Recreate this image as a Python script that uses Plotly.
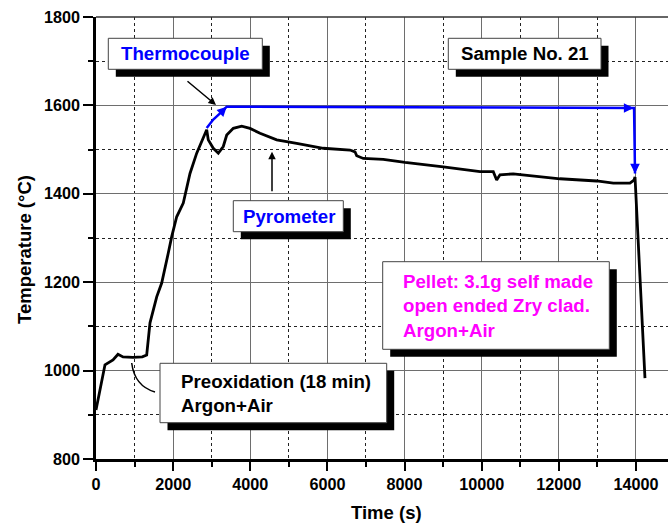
import plotly.graph_objects as go

# ---------------- data ----------------
pyro_t = [0, 233, 441, 570, 700, 959, 1200, 1314, 1400, 1444, 1574, 1703, 1763, 1874,
          1963, 2092, 2263, 2351, 2437, 2611, 2782, 2870, 2911, 3041, 3171, 3300, 3389,
          3560, 3777, 3993, 4252, 4685, 5203, 5893, 6585, 6715, 6759, 6930, 7449, 8011,
          9004, 9956, 10300, 10350, 10388, 10474, 10819, 12030, 12981, 13412, 13844,
          13948, 13975, 14233]
pyro_T = [911, 1013, 1024, 1037, 1031, 1030, 1031, 1035, 1108, 1122, 1167, 1198, 1220, 1266,
          1303, 1348, 1379, 1416, 1446, 1492, 1529, 1545, 1522, 1503, 1492, 1507, 1533,
          1548, 1553, 1548, 1537, 1522, 1514, 1503, 1499, 1495, 1486, 1480, 1478, 1471,
          1461, 1450, 1450, 1440, 1431, 1443, 1445, 1434, 1429, 1424, 1424,
          1431, 1438, 983]

tc_t = [2870, 3041, 3215, 3389, 8000, 13950, 13975]
tc_T = [1549, 1568, 1582, 1597, 1596, 1594, 1446]

x_ticks = [0, 2000, 4000, 6000, 8000, 10000, 12000, 14000]
y_ticks = [800, 1000, 1200, 1400, 1600, 1800]

FONT = "Liberation Sans, Arial, sans-serif"

# pixel -> paper helpers (plot area: x 96..668, y 17..459)
def px(x):
    return (x - 96) / 572.0

def py(y):
    return (459 - y) / 442.0

fig = go.Figure()
fig.add_trace(go.Scatter(x=pyro_t, y=pyro_T, mode="lines",
                         line=dict(color="black", width=2.8), showlegend=False))
fig.add_trace(go.Scatter(x=tc_t, y=tc_T, mode="lines",
                         line=dict(color="#0000FF", width=2.5), showlegend=False))

shapes = []
annotations = []

# top frame
shapes.append(dict(type="line", xref="paper", yref="paper", x0=0, x1=1, y0=1, y1=1,
                   line=dict(color="#333333", width=1.5), layer="above"))


def box(x0, y0, x1, y1, off=7.5):
    shapes.append(dict(type="rect", xref="paper", yref="paper",
                       x0=px(x0 + off), x1=px(x1 + off), y0=py(y0 + off), y1=py(y1 + off),
                       fillcolor="black", line=dict(width=0), layer="above"))
    shapes.append(dict(type="rect", xref="paper", yref="paper",
                       x0=px(x0), x1=px(x1), y0=py(y0), y1=py(y1),
                       fillcolor="white", line=dict(color="#444444", width=1), layer="above"))


def label(x, y, text, color, xanchor="center"):
    annotations.append(dict(xref="paper", yref="paper", x=px(x), y=py(y), text=text,
                            showarrow=False, xanchor=xanchor, yanchor="middle", align="left",
                            font=dict(family=FONT, size=18.7, color=color, weight="bold")))


box(108.3, 38.3, 262.3, 69.3)
label(185.5, 53.8, "Thermocouple", "#0000FF")
box(233.3, 200.7, 343.3, 231.7)
label(288.5, 216.2, "Pyrometer", "#0000FF")
box(448.3, 38.3, 601.0, 69.3)
label(524.7, 53.8, "Sample No. 21", "black")
box(160.0, 363.3, 386.7, 422.7)
label(179.0, 393.0, "Preoxidation (18 min)<br>Argon+Air", "black", xanchor="left")
box(382.7, 261.7, 609.3, 349.3)
label(401.0, 305.5, "Pellet: 3.1g self made<br>open ended Zry clad.<br>Argon+Air", "#FF00FF",
      xanchor="left")

# curved pointer for preoxidation box
shapes.append(dict(type="path", xref="paper", yref="paper",
                   path=f"M {px(131.7)} {py(363)} Q {px(134.5)} {py(386)} {px(155)} {py(392)}",
                   line=dict(color="black", width=1.5), layer="above"))

# black pointer arrows
annotations.append(dict(x=3111, y=1601, xref="x", yref="y", ax=-30, ay=-25, text="",
                        showarrow=True, arrowhead=2, arrowsize=1, arrowwidth=1.5,
                        arrowcolor="black"))
annotations.append(dict(x=4563, y=1495, xref="x", yref="y", ax=0, ay=41, text="",
                        showarrow=True, arrowhead=2, arrowsize=1, arrowwidth=1.5,
                        arrowcolor="black"))
# blue arrowheads on thermocouple line
annotations.append(dict(x=3389, y=1597, xref="x", yref="y", ax=-6, ay=6, text="",
                        showarrow=True, arrowhead=2, arrowsize=0.8, arrowwidth=2.4,
                        arrowcolor="#0000FF"))
annotations.append(dict(x=13935, y=1594, xref="x", yref="y", ax=-9, ay=0, text="",
                        showarrow=True, arrowhead=2, arrowsize=0.8, arrowwidth=2.4,
                        arrowcolor="#0000FF"))
annotations.append(dict(x=13975, y=1446, xref="x", yref="y", ax=0, ay=-9, text="",
                        showarrow=True, arrowhead=2, arrowsize=0.8, arrowwidth=2.4,
                        arrowcolor="#0000FF"))

# axis titles
annotations.append(dict(xref="paper", yref="paper", x=px(24), y=py(250),
                        text="Temperature (°C)", textangle=-90, showarrow=False,
                        xanchor="center", yanchor="middle",
                        font=dict(family=FONT, size=18.5, color="black", weight="bold")))
annotations.append(dict(xref="paper", yref="paper", x=px(386), y=py(512),
                        text="Time (s)", showarrow=False, xanchor="center", yanchor="middle",
                        font=dict(family=FONT, size=18.5, color="black", weight="bold")))

tickfont = dict(family=FONT, size=16.2, color="black", weight="bold")

fig.update_layout(
    width=668, height=526,
    margin=dict(l=96, r=0, t=17, b=67, pad=0),
    paper_bgcolor="white", plot_bgcolor="white",
    shapes=shapes, annotations=annotations,
    xaxis=dict(range=[0, 14830], tickvals=x_ticks, ticktext=[str(v) for v in x_ticks],
               showline=True, linecolor="black", linewidth=2.5,
               ticks="outside", ticklen=9, tickwidth=1.5, tickcolor="black",
               tickfont=tickfont, showgrid=True, gridcolor="#6e6e6e", gridwidth=1.3,
               zeroline=False,
               minor=dict(dtick=1000, tick0=0, ticks="outside", ticklen=5, tickwidth=1.5,
                          tickcolor="black", showgrid=True, gridcolor="#222222",
                          gridwidth=1, griddash="dot")),
    yaxis=dict(range=[800, 1800], tickvals=y_ticks, ticktext=[str(v) for v in y_ticks],
               showline=True, linecolor="black", linewidth=2.5,
               ticks="outside", ticklen=10, tickwidth=1.5, tickcolor="black",
               tickfont=tickfont, showgrid=True, gridcolor="#6e6e6e", gridwidth=1.3,
               zeroline=False,
               minor=dict(dtick=100, tick0=800, ticks="outside", ticklen=5, tickwidth=1.5,
                          tickcolor="black", showgrid=True, gridcolor="#222222",
                          gridwidth=1, griddash="dot")),
)

fig.write_html("out.html")
